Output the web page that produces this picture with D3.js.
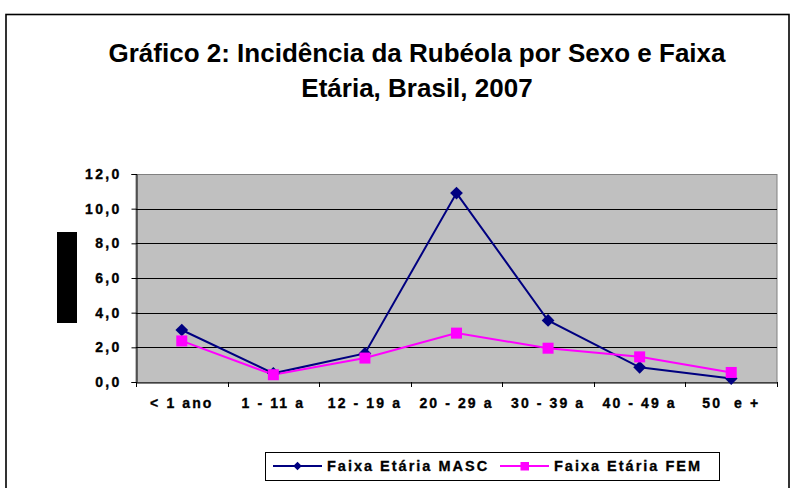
<!DOCTYPE html>
<html><head><meta charset="utf-8">
<script src="https://cdn.jsdelivr.net/npm/d3@7"></script>
<style>body{margin:0;background:#fff}svg{display:block}text{font-family:"Liberation Sans",Arial,sans-serif}</style>
</head><body>
<svg id="c" width="793" height="488"></svg>
<script>
const categories = ["< 1 ano","1 - 11 a","12 - 19 a","20 - 29 a","30 - 39 a","40 - 49 a","50  e +"];
const masc = [3.0, 0.5, 1.65, 10.9, 3.55, 0.85, 0.2];
const fem = [2.37, 0.42, 1.38, 2.82, 1.95, 1.45, 0.55];
const yTicks = [0,2,4,6,8,10,12];
const titleLines = ["Gráfico 2: Incidência da Rubéola por Sexo e Faixa","Etária, Brasil, 2007"];
const legendLabels = ["Faixa Etária MASC","Faixa Etária FEM"];

const FONT = "'Liberation Sans',Arial,sans-serif";
const svg = d3.select("#c");
// chart border
svg.append("rect").attr("x",6).attr("y",14.5).attr("width",783).attr("height",490)
  .attr("fill","#fff").attr("stroke","#000").attr("stroke-width",1.6);

// title
svg.append("g").selectAll("text").data(titleLines).join("text")
  .attr("x",417).attr("y",(d,i)=>62+i*35).attr("text-anchor","middle")
  .attr("font-weight","bold").attr("font-size",26).attr("fill","#000").text(d=>d);

const L=136,R=777,T=174,B=382;
const x = d3.scaleBand().domain(categories).range([L,R]);
const y = d3.scaleLinear().domain([0,12]).range([B,T]);

svg.append("rect").attr("x",L).attr("y",T+0.5).attr("width",R-L).attr("height",B-T)
  .attr("fill","#c0c0c0").attr("stroke","#808080");

// gridlines
svg.append("g").selectAll("line").data(yTicks.filter(d=>d>0)).join("line")
  .attr("x1",L).attr("x2",R).attr("y1",d=>Math.round(y(d))+0.5).attr("y2",d=>Math.round(y(d))+0.5)
  .attr("stroke",(d)=>d===12?"#808080":"#000").attr("stroke-width",1);

// y axis
const ya = svg.append("g").attr("transform",`translate(${L+0.5},0)`)
  .call(d3.axisLeft(y).tickValues(yTicks).tickSize(5).tickPadding(10).tickFormat(d=>d3.format(".1f")(d).replace(".", ",")));
ya.select(".domain").attr("stroke","#000");
ya.selectAll("text").attr("font-size",14).attr("font-weight","bold").attr("fill","#000")
  .attr("stroke","#000").attr("stroke-width",0.35)
  .attr("letter-spacing","2.3px").style("font-family",FONT);

// x axis
const xa = svg.append("g").attr("transform",`translate(0,${B+0.5})`)
  .call(d3.axisBottom(x).tickSize(0).tickPadding(16));
xa.select(".domain").attr("stroke","#000");
xa.selectAll("text").attr("font-size",14).attr("font-weight","bold").attr("fill","#000")
  .attr("stroke","#000").attr("stroke-width",0.35)
  .attr("letter-spacing","2.1px").style("font-family",FONT).style("white-space","pre");
// boundary ticks
svg.append("g").selectAll("line").data(categories.concat(["end"])).join("line")
  .attr("x1",(d,i)=>Math.round(i<categories.length?x(d):R)+0.5).attr("x2",(d,i)=>Math.round(i<categories.length?x(d):R)+0.5)
  .attr("y1",B).attr("y2",B+5).attr("stroke","#000");

// y-axis title placeholder block
svg.append("rect").attr("x",57).attr("y",232).attr("width",20).attr("height",91).attr("fill","#000");

// lines
const cx = i => x(categories[i])+x.bandwidth()/2;
const line = d3.line().x((d,i)=>cx(i)).y(d=>y(d));
svg.append("path").datum(masc).attr("d",line).attr("fill","none").attr("stroke","#000080").attr("stroke-width",2);
svg.append("path").datum(fem).attr("d",line).attr("fill","none").attr("stroke","#ff00ff").attr("stroke-width",2);

svg.append("g").selectAll("path").data(masc).join("path")
  .attr("d",d3.symbol().type(d3.symbolSquare).size(81)).attr("transform",(d,i)=>`translate(${cx(i)},${y(d)}) rotate(45)`)
  .attr("fill","#000080");
svg.append("g").selectAll("rect").data(fem).join("rect")
  .attr("x",(d,i)=>cx(i)-5.5).attr("y",d=>y(d)-5.5)
  .attr("width",11).attr("height",11).attr("fill","#ff00ff");

// legend
const lg = svg.append("g");
lg.append("rect").attr("x",265.5).attr("y",452.5).attr("width",454).attr("height",28)
  .attr("fill","#fff").attr("stroke","#000");
const items = [{lbl:legendLabels[0],c:"#000080",x0:273,m:"d"},{lbl:legendLabels[1],c:"#ff00ff",x0:500,m:"s"}];
items.forEach(it=>{
  lg.append("line").attr("x1",it.x0).attr("x2",it.x0+49).attr("y1",466).attr("y2",466).attr("stroke",it.c).attr("stroke-width",2);
  if(it.m==="d"){
    lg.append("path").attr("d",d3.symbol().type(d3.symbolSquare).size(36)()).attr("transform",`translate(${it.x0+24.5},466) rotate(45)`).attr("fill",it.c);
  } else {
    lg.append("rect").attr("x",it.x0+20.5).attr("y",462).attr("width",8.5).attr("height",8.5).attr("fill",it.c);
  }
  lg.append("text").attr("x",it.x0+54).attr("y",471).attr("font-size",14.5).attr("font-weight","bold")
    .attr("stroke","#000").attr("stroke-width",0.3)
    .attr("letter-spacing","2px").attr("fill","#000").text(it.lbl);
});
</script>
</body></html>
